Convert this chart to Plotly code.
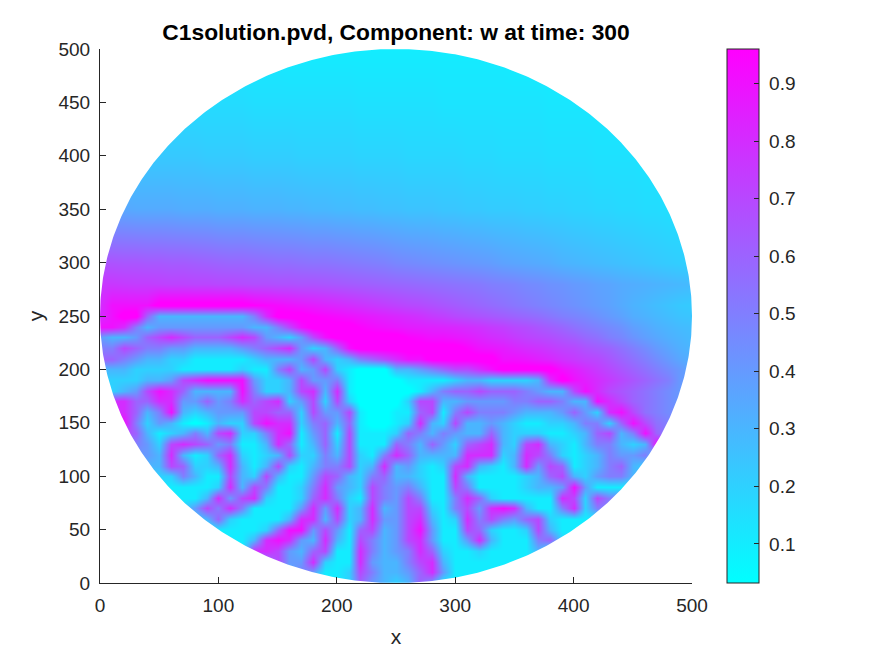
import numpy as np
import plotly.graph_objects as go

TITLE = "C1solution.pvd, Component: w at time: 300"
x_grid = list(range(0, 501, 10))
y_grid = [0,10,20,30,40,50,60,70,80,90,100,110,120,130,140,150,160,170,180,190,200,210,220,230,240,250,260,280,300,350,400,450,500]
x_ticks = [0,100,200,300,400,500]
y_ticks = list(range(0,501,50))
c_ticks = [0.1,0.2,0.3,0.4,0.5,0.6,0.7,0.8,0.9]

# values, in tenths of w (columns x=0,10,...,500)
r000=[1,1,1,1,1, 1,1,1,1,1, 1,1,1,1,1, 1,1,1,1,1, 1,2,6,4,3, 2,3,6,4,1, 1,1,1,1,1, 1,1,1,1,1, 1,1,1,1,1, 1,1,1,1,1, 1]
r010=[1,1,1,1,1, 1,1,1,1,1, 1,1,1,1,1, 1,3,5,4,1, 1,2,7,5,3, 3,4,6,8,4, 1,1,1,1,1, 1,1,1,1,1, 1,1,1,1,1, 1,1,1,1,1, 1]
r020=[1,1,1,1,1, 1,1,1,1,1, 1,1,1,1,5, 7,4,4,8,2, 1,1,8,4,3, 3,5,7,8,3, 1,1,1,1,1, 1,1,1,1,1, 1,1,1,1,1, 1,1,1,1,1, 1]
r030=[1,1,1,1,1, 1,1,1,1,1, 1,1,1,8,8, 7,4,3,6,7, 1,1,8,5,3, 4,5,8,6,2, 1,1,2,1,1, 1,1,3,1,1, 1,1,1,1,1, 1,1,1,1,1, 1]
r040=[1,1,1,1,1, 1,1,1,1,1, 1,1,1,3,8, 9,8,4,3,8, 3,1,7,5,3, 4,7,8,4,1, 1,4,8,3,1, 1,1,5,6,2, 1,1,1,1,1, 1,1,1,1,1, 1]
r050=[1,1,1,1,1, 1,1,1,1,1, 1,1,1,1,2, 6,9,9,4,7, 4,1,6,7,3, 4,7,9,4,1, 1,7,6,2,1, 1,2,7,3,1, 1,1,1,1,1, 1,1,1,1,1, 1]
r060=[1,1,1,1,1, 1,1,1,2,3, 6,2,1,1,1, 1,3,8,8,3, 7,2,3,8,4, 4,7,8,3,1, 2,8,5,7,5, 4,6,7,2,1, 1,1,1,1,1, 1,1,1,1,1, 1]
r070=[1,1,1,1,1, 1,1,2,4,7, 5,8,5,1,1, 1,1,4,8,4, 8,2,3,8,3, 4,7,7,2,1, 5,7,4,8,9, 8,3,1,1,5, 8,2,5,5,5, 5,5,5,5,5, 5]
r080=[1,1,1,1,1, 1,1,1,1,3, 8,4,7,8,2, 1,1,2,6,8, 5,2,1,7,5, 4,7,5,1,1, 5,8,6,2,1, 1,1,1,1,8, 7,2,7,5,5, 5,5,5,5,5, 5]
r090=[1,1,1,1,1, 1,1,1,1,1, 2,8,3,7,5, 1,1,2,5,8, 4,3,2,7,5, 4,5,3,1,1, 7,5,1,1,1, 1,2,3,3,4, 9,4,1,1,1, 1,1,1,1,1, 1]
r100=[2,2,2,2,2, 2,2,5,3,1, 1,7,3,2,7, 3,1,1,4,7, 6,3,2,5,6, 3,3,2,1,1, 8,3,1,1,1, 1,2,3,6,7, 3,2,4,5,5, 3,3,3,3,3, 3]
r110=[3,3,3,3,3, 3,7,6,2,2, 3,8,3,1,3, 7,2,1,3,5, 5,7,2,3,8, 3,4,2,1,2, 7,8,3,2,1, 3,8,4,7,6, 1,2,3,5,6, 3,2,2,2,2, 2]
r120=[4,4,4,4,4, 3,8,3,1,2, 6,8,2,1,2, 3,7,2,2,5, 3,7,2,1,5, 8,6,3,3,3, 3,8,8,8,2, 3,8,7,5,2, 1,2,3,5,4, 4,5,2,2,2, 2]
r130=[5,5,5,5,4, 2,7,8,7,6, 4,5,1,1,3, 8,6,1,3,6, 2,7,1,1,1, 6,5,3,6,4, 2,6,7,8,3, 2,7,8,3,2, 1,3,5,5,3, 2,3,9,9,9, 9]
r140=[7,7,7,6,3, 1,2,3,5,3, 7,8,2,2,5, 8,9,1,4,6, 1,7,1,1,1, 2,6,5,3,5, 4,3,3,6,3, 2,2,2,1,1, 2,3,6,7,3, 5,9,6,5,5, 5]
r150=[8,8,9,5,2, 4,3,1,0,1, 3,2,2,7,9, 8,8,2,5,6, 3,6,1,0,0, 1,2,8,3,2, 7,3,3,4,3, 2,1,1,2,2, 3,5,5,2,6, 9,7,5.5,5,5, 5]
r160=[8,8,8,6,3, 5,9,3,2,3, 4,4,4,7,7, 6,6,2,7,4, 4,7,1,0,0, 1,1,6,7,1, 5,7,5,5,5, 4,3,3,3,4, 6,4,2,8,9, 7,5.5,5,4.5,4.5, 4.5]
r170=[8,8,8,6,6, 8,8,4,4,6, 4,5,8,6,7, 8,2,4,7,2, 7,2,0,0,0, 0,2,7,7,3, 3,4,4,4,4, 5,5,6,6,5, 3,3,9,8,7, 6,5.5,5,4.5,4, 4]
r180=[2,2,3,4,7, 9,8,6,3,3, 3,3,9,5,2, 2,3,7,8,3, 8,1,0,0,0, 0,0,1,3,5, 6,6,7,6,6, 6,5,4,3,3, 7,9,8,7,6.5, 6,5.5,5,4.5,4, 4]
r190=[2,2,2,2,3, 3,4,7,8,9, 9,9,9,4,2, 2,3,7,4,4, 5,1,0,0,0, 0,1,1,1,1, 2,3,3,2,2, 2,2,3,8,10, 9,8.5,8,7.5,7, 6.5,6,5.5,5,4, 4]
r200=[3,3,3,2,2, 2,2,1,1,1, 1,1,2,1,1, 5,7,3,4,7, 2,1,0,0,0, 3,3,4,5,6, 7,7,8,9,10, 10,10,10,10,9, 8.5,8,7.5,7,6.5, 6,5.5,5,4.5,4, 3.5]
r210=[6,6,5,4,3, 3,2,2,1,1, 1,1,1,2,3, 3,3,4,7,3, 2,3,5,6,7, 8,9,9,10,10, 10,10,10,10,9, 9,8.8,8.5,8.2,7.8, 7.5,7.2,7,6.5,6, 5.5,5,4.5,4,3.5, 3.2]
r220=[5,5,7,6,5, 5,4,4,3,3, 3,3,4,5,6, 7,8,4,2,3, 6,9,10,10,10, 10,10,10,10,10, 10,9.5,9,8.8,8.6, 8.3,8,7.8,7.5,7.2, 7,6.6,6.3,6,5.5, 5,4.5,4,3.6,3.2, 3]
r230=[4,3,3,4,6, 7,8,7,6,6, 6,7,8,7,4, 3,2,4,7,9, 10,10,10,10,10, 10,9.5,9.3,9,9, 8.8,8.6,8.3,8,7.8, 7.5,7.2,7,6.8,6.5, 6.2,5.8,5.5,5,4.7, 4.2,3.8,3.5,3.2,3, 2.8]
r240=[9,9,8,5,3, 4,4,4,4,4, 4,4,4,3,3, 5,7,9,10,10, 10,10,9.5,9.2,9, 8.8,8.6,8.5,8.4,8.3, 8.2,8,7.8,7.5,7.3, 7,6.8,6.5,6.2,5.9, 5.5,5.2,4.9,4.6,4.3, 3.8,3.5,3.2,3,2.8, 2.7]
r250=[8,9,10,10,6, 3,3,3,3,3, 3,3,3,5,8, 10,10,10,9.6,9.4, 9.2,9,8.8,8.6,8.4, 8.2,8,7.8,7.5,7.3, 7,6.8,6.6,6.4,6.2, 6,5.8,5.6,5.3,5, 4.8,4.6,4.3,4,3.7, 3.3,3.1,2.9,2.7,2.5, 2.4]
r260=[8,9,9,9,9, 10,10,10,10,10, 10,10,10,9.6,9.4, 9.2,9,8.8,8.6,8.4, 8.2,8,7.8,7.6,7.4, 7.2,7,6.9,6.7,6.5, 6.3,6.1,5.9,5.7,5.5, 5.3,5.1,4.9,4.7,4.5, 4.3,4.1,3.9,3.7,3.4, 3.1,2.9,2.7,2.5,2.3, 2.2]
r280=[7.6,7.6,7.5,7.4,7.4, 7.3,7.2,7.2,7.1,7.1, 7,7,6.9,6.8,6.8, 6.7,6.7,6.6,6.6,6.5, 6.4,6.3,6.2,6.1,6, 5.9,5.8,5.7,5.6,5.5, 5.4,5.3,5.2,5,4.9, 4.8,4.6,4.5,4.3,4.2, 4,3.9,3.7,3.6,3.4, 3.3,3.2,3.1,3,2.9, 2.8]
r300=[6.6,6.6,6.5,6.5,6.4, 6.4,6.3,6.3,6.2,6.1, 6,5.9,5.9,5.8,5.7, 5.6,5.6,5.5,5.4,5.4, 5.3,5.2,5.1,5,4.9, 4.7,4.6,4.5,4.4,4.3, 4.2,4.1,4,3.9,3.7, 3.6,3.5,3.4,3.3,3.1, 3,2.9,2.8,2.7,2.6, 2.5,2.4,2.3,2.2,2.1, 2]
r350=[3.5,3.5,3.5,3.4,3.4, 3.4,3.4,3.3,3.3,3.3, 3.2,3.2,3.2,3.1,3.1, 3.1,3,3,2.9,2.9, 2.8,2.8,2.7,2.7,2.6, 2.6,2.5,2.5,2.5,2.4, 2.4,2.3,2.3,2.2,2.2, 2.2,2.1,2.1,2,2, 1.9,1.9,1.8,1.8,1.7, 1.7,1.6,1.6,1.5,1.5, 1.4]
r400=[2.3,2.3,2.3,2.3,2.3, 2.3,2.3,2.3,2.3,2.2, 2.2,2.2,2.2,2.1,2.1, 2.1,2.1,2,2,2, 2,2,1.9,1.9,1.9, 1.9,1.8,1.8,1.8,1.8, 1.8,1.7,1.7,1.7,1.6, 1.6,1.6,1.6,1.5,1.5, 1.5,1.5,1.4,1.4,1.4, 1.4,1.3,1.3,1.3,1.3, 1.3]
r450=[1.6,1.6,1.6,1.6,1.6, 1.6,1.6,1.6,1.6,1.6, 1.6,1.6,1.6,1.5,1.5, 1.5,1.5,1.5,1.5,1.5, 1.5,1.5,1.4,1.4,1.4, 1.4,1.4,1.4,1.4,1.3, 1.3,1.3,1.3,1.3,1.3, 1.3,1.3,1.3,1.2,1.2, 1.2,1.2,1.2,1.2,1.2, 1.2,1.1,1.1,1.1,1.1, 1.1]
r500=[1.1,1.1,1.1,1.1,1.1, 1.1,1.1,1.1,1.1,1.1, 1.1,1.1,1.1,1.1,1.1, 1.1,1,1,1,1, 1,1,1,1,1, 1,1,1,1,1, 1,1,1,1,1, .9,.9,.9,.9,.9, .9,.9,.9,.9,.9, .9,.9,.9,.9,.9, .9]

rows=[r000,r010,r020,r030,r040,r050,r060,r070,r080,r090,r100,r110,r120,r130,r140,r150,r160,r170,r180,r190,r200,r210,r220,r230,r240,r250,r260,r280,r300,r350,r400,r450,r500]
for i,r in enumerate(rows):
    assert len(r)==51,(i,len(r))
z=(np.array(rows,dtype=float)/10)

INK="#262626"
FONT="Liberation Sans, Arial, sans-serif"
fig=go.Figure()
fig.add_trace(go.Heatmap(x=x_grid,y=y_grid,z=z,zsmooth="best",zmin=0.032,zmax=0.96,
    colorscale=[[0,"#00ffff"],[1,"#ff00ff"]],hoverinfo="skip",
    colorbar=dict(x=1.059,xanchor="left",xpad=0,y=0,yanchor="bottom",ypad=0,len=1,lenmode="fraction",
        thickness=32,thicknessmode="pixels",outlinewidth=1,outlinecolor=INK,
        tickmode="array",tickvals=c_ticks,ticktext=["\u00a0"+str(t) for t in c_ticks],
        ticks="inside",ticklen=5,tickwidth=1,tickcolor=INK,
        tickfont=dict(family=FONT,size=19,color=INK))))
# white surround that turns the rectangular field into the disk
t=np.linspace(0,np.pi,361)
mx=list(250+250*np.cos(t))+[0,0,500,500,None]+list(250+250*np.cos(t))+[0,0,500,500]
my=list(250+250*np.sin(t))+[250,500.5,500.5,250,None]+list(250-250*np.sin(t))+[250,-0.5,-0.5,250]
fig.add_trace(go.Scatter(x=mx,y=my,mode="lines",line=dict(width=0,color="white"),fill="toself",fillcolor="white",
    hoverinfo="skip",showlegend=False))
axis=dict(showline=True,linecolor=INK,linewidth=1,ticks="inside",ticklen=6,tickwidth=1,tickcolor=INK,
    showgrid=False,zeroline=False,range=[0,500],tickfont=dict(family=FONT,size=19,color=INK),
    ticklabelstandoff=5,title_font=dict(family=FONT,size=21,color=INK))
# the page adds 8 px on the left and top, so the margins are offset by it
fig.update_layout(width=875,height=656,autosize=False,paper_bgcolor="white",plot_bgcolor="white",
    margin=dict(l=91.5,r=191,t=41,b=80.5),showlegend=False,
    title=dict(text="<b>"+TITLE+"</b>",x=388/875,xanchor="center",y=1-24/656,yanchor="middle",
        font=dict(family=FONT,size=22.8,color="black")),
    xaxis=dict(axis,tickmode="array",tickvals=x_ticks,title=dict(text="x",standoff=14)),
    yaxis=dict(axis,tickmode="array",tickvals=y_ticks,title=dict(text="y",standoff=9)))
fig.write_html("out.html")
